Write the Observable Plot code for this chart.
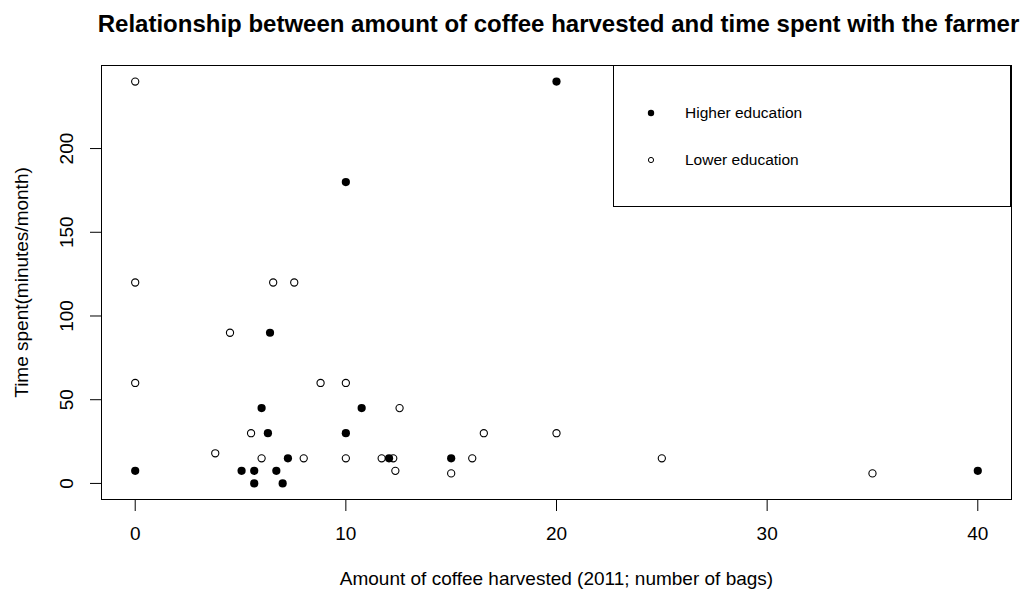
<!DOCTYPE html>
<html>
<head>
<meta charset="utf-8">
<script src="https://cdn.jsdelivr.net/npm/d3@7"></script>
<script src="https://cdn.jsdelivr.net/npm/@observablehq/plot@0.6"></script>
<style>
  html, body { margin: 0; padding: 0; background: #fff; }
  #wrap { position: relative; width: 1023px; height: 597px; font-family: "Liberation Sans", Arial, sans-serif; }
  #title { height: 50px; box-sizing: border-box; padding-top: 10px; text-align: center; font-weight: bold; font-size: 24px; line-height: 27px; color: #000; padding-left: 94px; white-space: nowrap; }
  #legend { position: absolute; left: 613px; top: 65px; width: 398px; height: 142px; box-sizing: border-box; border: 1px solid #000; background: #fff; }
  .item { position: absolute; left: 0; height: 20px; font-size: 15.5px; line-height: 20px; color: #000; }
  .item svg { position: absolute; left: 31px; top: 4px; }
  .item span { position: absolute; left: 71px; top: 0; white-space: nowrap; }
</style>
</head>
<body>
<div id="wrap">
  <div id="title"></div>
  <div id="chart"></div>
  <div id="legend"></div>
</div>
<script>
const titleText = "Relationship between amount of coffee harvested and time spent with the farmer";
const xLabel = "Amount of coffee harvested (2011; number of bags)";
const yLabel = "Time spent(minutes/month)";
const xTicks = [0, 10, 20, 30, 40];
const yTicks = [0, 50, 100, 150, 200];
const legendLabels = ["Higher education", "Lower education"];

// Higher education (filled points)
const higherX = [0, 20, 10, 6.4, 6.0, 6.3, 10, 10.75, 5.05, 5.65, 6.7, 5.65, 7.0, 7.25, 12.05, 15, 40];
const higherY = [7.5, 240, 180, 90, 45, 30, 30, 45, 7.5, 7.5, 7.5, 0, 0, 15, 15, 15, 7.5];
// Lower education (open points)
const lowerX = [0, 0, 0, 4.5, 3.8, 5.5, 6.0, 6.55, 7.55, 8.0, 8.8, 10, 10, 11.7, 12.25, 12.35, 12.55, 15, 16, 16.55, 20, 25, 35];
const lowerY = [240, 120, 60, 90, 18, 30, 15, 120, 120, 15, 60, 60, 15, 15, 15, 7.5, 45, 6, 15, 30, 30, 15, 6];

const higher = higherX.map((x, i) => ({x, y: higherY[i]}));
const lower = lowerX.map((x, i) => ({x, y: lowerY[i]}));

document.getElementById("title").textContent = titleText;

const font = "\"Liberation Sans\", Arial, sans-serif";
const chart = Plot.plot({
  width: 1023,
  height: 547,
  marginTop: 15,
  marginBottom: 98,
  marginLeft: 101,
  marginRight: 12,
  style: {fontFamily: font, fontSize: "19px", color: "#000", background: "transparent"},
  x: {domain: [-1.6, 41.6]},
  y: {domain: [-9.6, 249.6]},
  marks: [
    Plot.frame({stroke: "#000", strokeWidth: 1}),
    Plot.axisX(xTicks, {tickSize: 12, tickPadding: 15, fontSize: 19, stroke: "#000", label: null}),
    Plot.axisY(yTicks, {tickSize: 11, tickFormat: () => "", stroke: "#000", label: null}),
    Plot.text(yTicks, {y: d => d, frameAnchor: "left", dx: -35, rotate: -90, text: d => String(d), fontSize: 19, fill: "#000", textAnchor: "middle", lineAnchor: "middle"}),
    Plot.text([xLabel], {frameAnchor: "bottom", dy: 79, text: d => d, fontSize: 19, fill: "#000", textAnchor: "middle", lineAnchor: "middle"}),
    Plot.text([yLabel], {frameAnchor: "left", dx: -80, rotate: -90, text: d => d, fontSize: 19, fill: "#000", textAnchor: "middle", lineAnchor: "middle"}),
    Plot.dot(lower, {x: "x", y: "y", r: 3.6, stroke: "#000", strokeWidth: 1.1, fill: "none"}),
    Plot.dot(higher, {x: "x", y: "y", r: 4.1, fill: "#000", stroke: "none"})
  ]
});
document.getElementById("chart").appendChild(chart);

// Legend
const legend = document.getElementById("legend");
const tops = [37, 84];
legendLabels.forEach((lab, i) => {
  const item = document.createElement("div");
  item.className = "item";
  item.style.top = tops[i] + "px";
  item.style.width = "300px";
  const filled = i === 0;
  item.innerHTML = `<svg width="12" height="12"><circle cx="6" cy="6" r="${filled ? 3.2 : 2.6}" fill="${filled ? "#000" : "none"}" stroke="#000" stroke-width="${filled ? 0 : 1}"></circle></svg><span></span>`;
  item.querySelector("span").textContent = lab;
  legend.appendChild(item);
});
</script>
</body>
</html>
